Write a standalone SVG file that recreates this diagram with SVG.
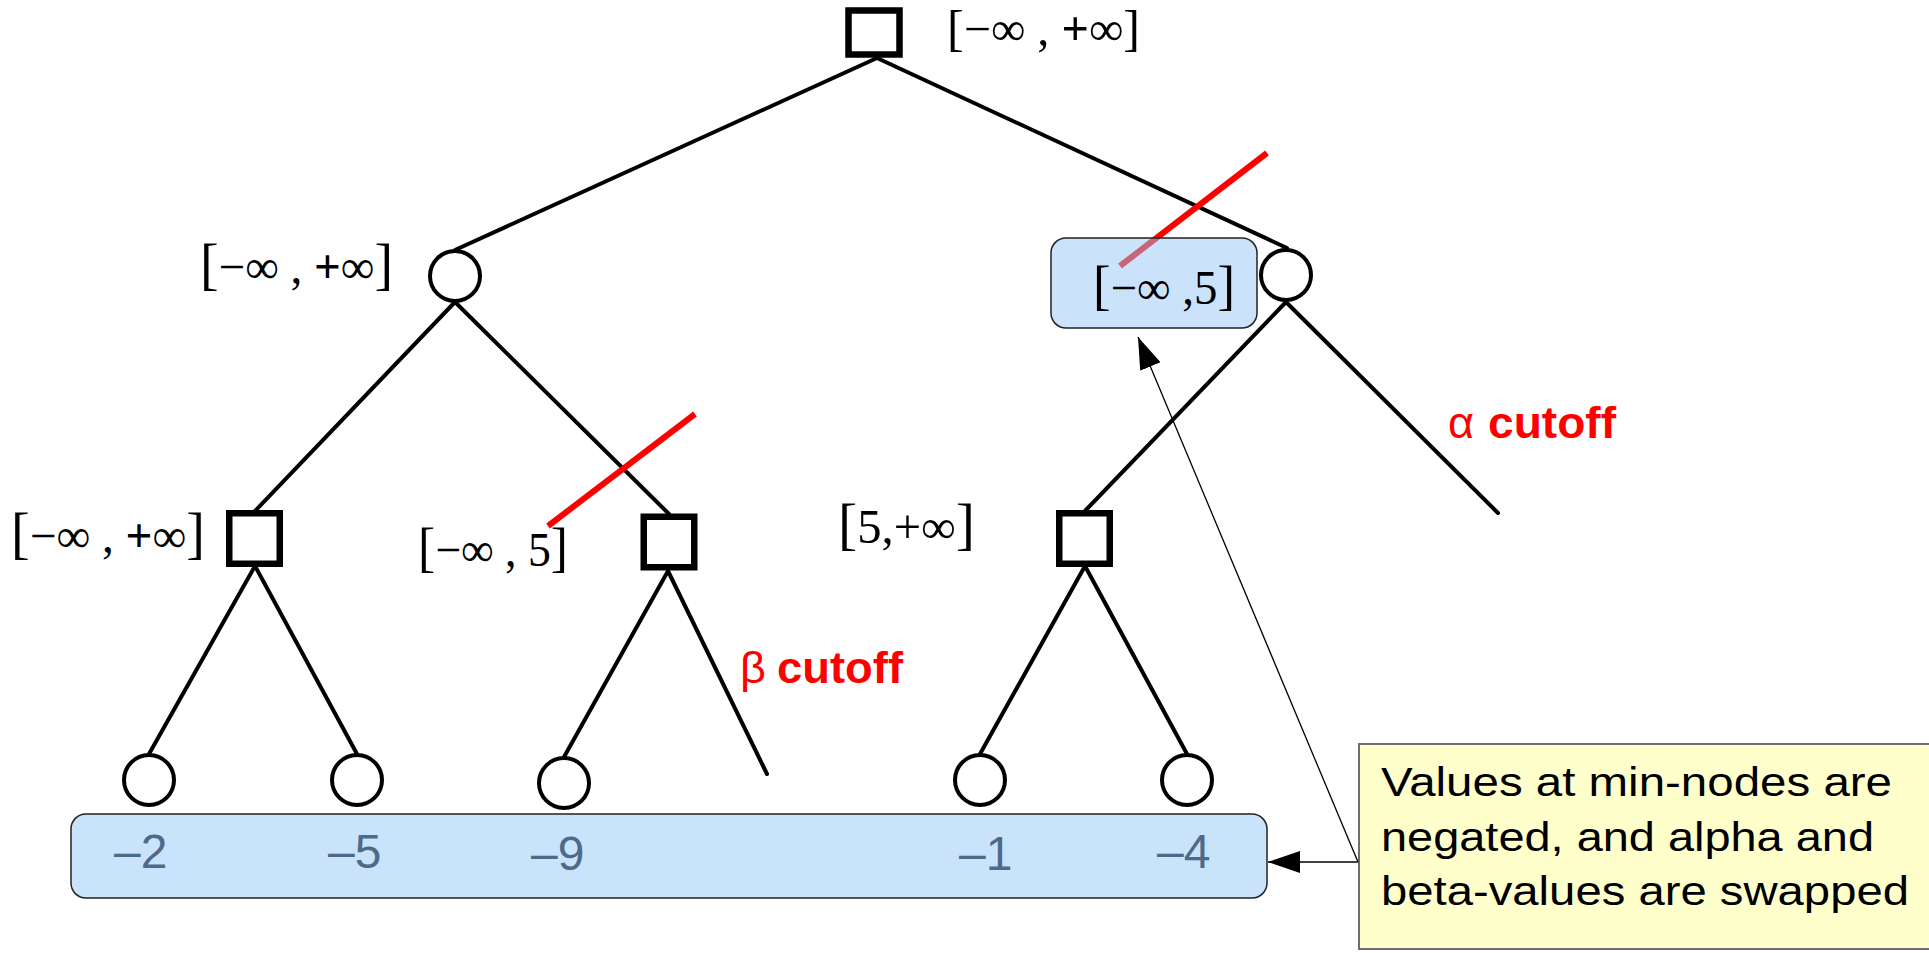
<svg xmlns="http://www.w3.org/2000/svg" width="1929" height="953" viewBox="0 0 1929 953">
  <style>
    .edge { stroke: #000; stroke-width: 4; fill: none; stroke-linecap: round; }
    .cut { stroke: #ff0000; stroke-width: 6; fill: none; }
    .maxn { fill: #fff; stroke: #000; stroke-width: 6.5; }
    .minn { fill: #fff; stroke: #000; stroke-width: 4; }
    .math { font-family: "Liberation Serif", "Times New Roman", serif; font-size: 48px; fill: #000; }
    .br { font-size: 57px; }
    .br0 { font-size: 50px; }
    .pl { font-weight: bold; }
    .val { font-family: "Liberation Sans", Arial, sans-serif; font-size: 48px; fill: #4d6a8a; }
    .red { font-family: "Liberation Sans", Arial, sans-serif; font-size: 45px; fill: #ff0000; }
    .note { font-family: "Liberation Sans", Arial, sans-serif; font-size: 41px; fill: #000; }
    .thin { stroke: #000; stroke-width: 1.3; fill: none; }
  </style>
  <defs>
    <marker id="ah" markerUnits="userSpaceOnUse" markerWidth="34" markerHeight="24" refX="32" refY="11" orient="auto">
      <path d="M0,0 L32,11 L0,22 z" fill="#000"/>
    </marker>
  </defs>
  <rect width="1929" height="953" fill="#fff"/>

  <g id="connectors">
    <line class="edge" x1="877" y1="58" x2="455" y2="250"/>
    <line class="edge" x1="877" y1="58" x2="1287" y2="248"/>
    <line class="edge" x1="455" y1="302" x2="255" y2="511"/>
    <line class="edge" x1="455" y1="302" x2="669" y2="514"/>
    <line class="edge" x1="1286" y1="302" x2="1085" y2="511"/>
    <line class="edge" x1="1286" y1="302" x2="1498" y2="513"/>
    <line class="edge" x1="255" y1="566" x2="149" y2="754"/>
    <line class="edge" x1="255" y1="566" x2="357" y2="754"/>
    <line class="edge" x1="668" y1="571" x2="564" y2="757"/>
    <line class="edge" x1="668" y1="571" x2="767" y2="774"/>
    <line class="edge" x1="1085" y1="566" x2="980" y2="754"/>
    <line class="edge" x1="1085" y1="566" x2="1187" y2="754"/>
  </g>

  <g id="cutoff-marks">
    <line class="cut" x1="548" y1="526" x2="695" y2="414"/>
    <line class="cut" x1="1120" y1="266" x2="1267" y2="153"/>
  </g>

  <g id="root">
    <rect class="maxn" x="848.5" y="10.5" width="51" height="44" stroke-width="7"/>
    <text class="math" x="947" y="45" font-size="45" textLength="193" lengthAdjust="spacingAndGlyphs"><tspan class="br0">[</tspan>−∞ , <tspan class="pl">+</tspan>∞<tspan class="br0">]</tspan></text>
  </g>

  <g id="min-left">
    <circle class="minn" cx="455" cy="276" r="25"/>
    <text class="math" x="200" y="283" textLength="193" lengthAdjust="spacingAndGlyphs"><tspan class="br">[</tspan>−∞ , <tspan class="pl">+</tspan>∞<tspan class="br">]</tspan></text>
  </g>

  <g id="min-right">
    <circle class="minn" cx="1286" cy="275" r="25"/>
  </g>

  <g id="max-1">
    <rect class="maxn" x="229.25" y="513.25" width="50.5" height="50.5"/>
    <text class="math" x="11" y="552" textLength="194" lengthAdjust="spacingAndGlyphs"><tspan class="br">[</tspan>−∞ , <tspan class="pl">+</tspan>∞<tspan class="br">]</tspan></text>
  </g>

  <g id="max-2">
    <rect class="maxn" x="643.75" y="516.75" width="50.5" height="50.5"/>
    <text class="math" x="418" y="566" font-size="44" textLength="150" lengthAdjust="spacingAndGlyphs"><tspan font-size="54">[</tspan>−∞ , 5<tspan font-size="54">]</tspan></text>
  </g>

  <g id="max-3">
    <rect class="maxn" x="1059.25" y="513.25" width="50.5" height="50.5"/>
    <text class="math" x="838" y="543" textLength="137" lengthAdjust="spacingAndGlyphs"><tspan class="br">[</tspan>5,+∞<tspan class="br">]</tspan></text>
  </g>

  <g id="leaf-1"><circle class="minn" cx="149" cy="780" r="25"/></g>
  <g id="leaf-2"><circle class="minn" cx="357" cy="780" r="25"/></g>
  <g id="leaf-3"><circle class="minn" cx="564" cy="783" r="25"/></g>
  <g id="leaf-4"><circle class="minn" cx="980" cy="780" r="25"/></g>
  <g id="leaf-5"><circle class="minn" cx="1187" cy="780" r="25"/></g>

  <g id="beta-label">
    <text class="red" x="740" y="683">β</text>
    <text class="red" x="777" y="683" font-weight="bold" textLength="126" lengthAdjust="spacingAndGlyphs">cutoff</text>
  </g>
  <g id="alpha-label">
    <text class="red" x="1448" y="438">α</text>
    <text class="red" x="1488" y="438" font-weight="bold" textLength="128" lengthAdjust="spacingAndGlyphs">cutoff</text>
  </g>

  <g id="swapped-box">
    <rect x="1051" y="238" width="206" height="90" rx="15" ry="15" fill="rgb(150,200,245)" fill-opacity="0.5" stroke="#222" stroke-width="1.5"/>
    <text class="math" x="1093" y="304" font-size="45" textLength="142" lengthAdjust="spacingAndGlyphs" fill="#5a7391"><tspan font-size="54">[</tspan>−∞ ,5<tspan font-size="54">]</tspan></text>
  </g>

  <g id="values-box">
    <rect x="71" y="814" width="1196" height="84" rx="15" ry="15" fill="#c9e3fb" stroke="#222" stroke-width="1.5"/>
    <text class="val" x="114" y="868">–2</text>
    <text class="val" x="328" y="868">–5</text>
    <text class="val" x="531" y="870">–9</text>
    <text class="val" x="959" y="870">–1</text>
    <text class="val" x="1157" y="868">–4</text>
  </g>

  <g id="note">
    <rect x="1359" y="744" width="580" height="205" fill="#ffffcc" stroke="#6e6e6e" stroke-width="2"/>
    <text class="note" x="1381" y="796" textLength="511" lengthAdjust="spacingAndGlyphs">Values at min-nodes are</text>
    <text class="note" x="1381" y="851" textLength="493" lengthAdjust="spacingAndGlyphs">negated, and alpha and</text>
    <text class="note" x="1381" y="905" textLength="528" lengthAdjust="spacingAndGlyphs">beta-values are swapped</text>
  </g>

  <g id="note-arrows">
    <line class="thin" x1="1358" y1="862" x2="1138" y2="337" marker-end="url(#ah)"/>
    <line class="thin" x1="1358" y1="862" x2="1268" y2="862" marker-end="url(#ah)"/>
  </g>
</svg>
